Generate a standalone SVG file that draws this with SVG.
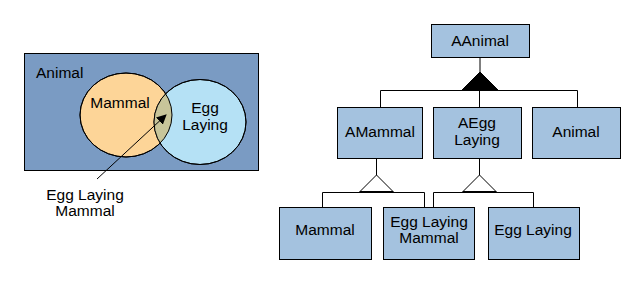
<svg xmlns="http://www.w3.org/2000/svg" width="644" height="283" viewBox="0 0 644 283">
<defs>
<style>
text{font-family:"Liberation Sans",Arial,sans-serif;font-size:15.5px;fill:#000;text-anchor:middle}
.box{fill:#a4c2df;stroke:#000;stroke-width:1}
.ln{stroke:#000;stroke-width:1;fill:none}
</style>
<marker id="ah" viewBox="0 0 10 10" refX="9" refY="5" markerWidth="10" markerHeight="10" markerUnits="userSpaceOnUse" orient="auto">
<path d="M0,0 L10,5 L0,10 z" fill="#000"/>
</marker>
<clipPath id="cm"><ellipse cx="126" cy="115" rx="46" ry="42"/></clipPath>
</defs>
<g id="venn">
<rect x="24.5" y="53.5" width="234" height="117" fill="#7a9bc3" stroke="#000"/>
<ellipse cx="126" cy="115" rx="46" ry="42" fill="#fdd598" stroke="#000"/>
<ellipse cx="200" cy="122" rx="46" ry="42.5" fill="#b5e1f5" stroke="#000"/>
<ellipse cx="200" cy="122" rx="46" ry="42.5" fill="#c8c59a" clip-path="url(#cm)"/>
<ellipse cx="126" cy="115" rx="46" ry="42" fill="none" stroke="#000"/>
<ellipse cx="200" cy="122" rx="46" ry="42.5" fill="none" stroke="#000"/>
<text x="36" y="78" style="text-anchor:start">Animal</text>
<text x="120" y="108">Mammal</text>
<text x="205" y="113">Egg</text>
<text x="205" y="130">Laying</text>
<line x1="97" y1="179" x2="166" y2="115" class="ln" marker-end="url(#ah)"/>
<text x="85" y="200">Egg Laying</text>
<text x="85" y="216">Mammal</text>
</g>
<g id="connectors">
<line x1="480" y1="57" x2="480" y2="72" class="ln"/>
<polygon points="480,72 462,90 498,90" fill="#000" stroke="#000"/>
<polyline points="380.5,107 380.5,90.5 577.5,90.5 577.5,107" class="ln"/>
<line x1="479.5" y1="90" x2="479.5" y2="107" class="ln"/>
<line x1="376.5" y1="158" x2="376.5" y2="175" class="ln"/>
<polygon points="376.5,175 359.5,192 393.5,192" fill="#fff" stroke="#000"/>
<polyline points="322.5,207 322.5,192.5 424.5,192.5 424.5,207" class="ln"/>
<line x1="360" y1="192" x2="393" y2="192" stroke="#000" stroke-width="2"/>
<line x1="479.5" y1="158" x2="479.5" y2="175" class="ln"/>
<polygon points="479.5,175 462.5,192 496.5,192" fill="#fff" stroke="#000"/>
<polyline points="433.5,207 433.5,192.5 533.5,192.5 533.5,207" class="ln"/>
<line x1="463" y1="192" x2="496" y2="192" stroke="#000" stroke-width="2"/>
</g>
<g id="aanimal"><rect class="box" x="431.5" y="24.5" width="98" height="33"/><text x="480" y="46">AAnimal</text></g>
<g id="amammal"><rect class="box" x="337.5" y="107.5" width="85" height="51"/><text x="380" y="137">AMammal</text></g>
<g id="aegglaying"><rect class="box" x="433.5" y="107.5" width="88" height="51"/><text x="477" y="128">AEgg</text><text x="477" y="145">Laying</text></g>
<g id="animal"><rect class="box" x="532.5" y="107.5" width="88" height="51"/><text x="576" y="137">Animal</text></g>
<g id="mammal"><rect class="box" x="279.5" y="207.5" width="92" height="52"/><text x="325" y="235">Mammal</text></g>
<g id="egglayingmammal"><rect class="box" x="383.5" y="207.5" width="91" height="52"/><text x="429" y="227">Egg Laying</text><text x="429" y="243">Mammal</text></g>
<g id="egglaying"><rect class="box" x="488.5" y="207.5" width="91" height="52"/><text x="533" y="235">Egg Laying</text></g>
</svg>
